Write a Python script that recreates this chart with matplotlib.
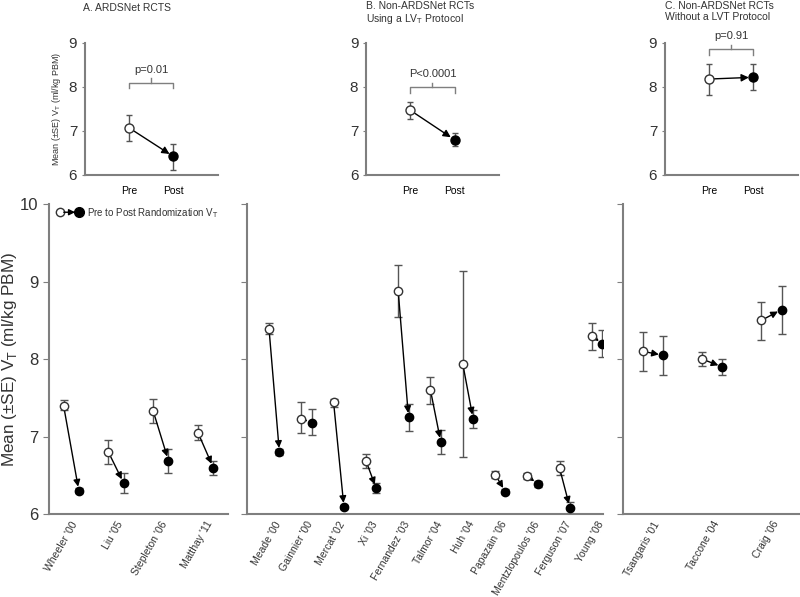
import matplotlib.pyplot as plt

plt.rcParams["font.family"] = ["Liberation Sans", "DejaVu Sans"]

# summary panels (pre, post) mean and SE bounds
summary_titles = [
    "A. ARDSNet RCTS",
    "B. Non-ARDSNet RCTs\nUsing a LV$_{\\mathrm{T}}$ Protocol",
    "C. Non-ARDSNet RCTs\nWithout a LVT Protocol",
]
summary_pre = [7.07, 7.47, 8.18]
summary_pre_lo = [6.77, 7.28, 7.82]
summary_pre_hi = [7.37, 7.66, 8.53]
summary_post = [6.42, 6.80, 8.22]
summary_post_lo = [6.12, 6.65, 7.92]
summary_post_hi = [6.70, 6.95, 8.53]
summary_p = ["p=0.01", "P<0.0001", "p=0.91"]
bracket_y = [8.10, 8.00, 8.86]

# individual trials, grouped
group_labels = [
    ["Wheeler '00", "Liu '05", "Stepleton '06", "Matthay '11"],
    ["Meade '00", "Gainnier '00", "Mercat '02", "Xi '03", "Fernandez '03",
     "Talmor '04", "Huh '04", "Papazain '06", "Mentzlopoulos '06",
     "Ferguson '07", "Young '08"],
    ["Tsangaris '01", "Taccone '04", "Craig '06"],
]
group_pre = [
    [7.40, 6.80, 7.33, 7.05],
    [8.39, 7.23, 7.44, 6.69, 8.88, 7.60, 7.94, 6.51, 6.49, 6.59, 8.30],
    [8.10, 8.00, 8.50],
]
group_pre_lo = [
    [7.34, 6.65, 7.18, 6.95],
    [8.32, 7.04, 7.38, 6.59, 8.54, 7.42, 6.74, 6.47, 6.45, 6.50, 8.12],
    [7.85, 7.91, 8.25],
]
group_pre_hi = [
    [7.47, 6.95, 7.48, 7.15],
    [8.46, 7.44, 7.48, 6.78, 9.22, 7.77, 9.14, 6.55, 6.53, 6.68, 8.47],
    [8.35, 8.09, 8.74],
]
group_post = [
    [6.30, 6.40, 6.69, 6.60],
    [6.80, 7.18, 6.09, 6.33, 7.25, 6.93, 7.23, 6.29, 6.39, 6.08, 8.20],
    [8.05, 7.90, 8.64],
]
group_post_lo = [
    [6.27, 6.27, 6.53, 6.50],
    [6.76, 7.02, 6.07, 6.27, 7.07, 6.78, 7.11, 6.26, 6.35, 6.00, 8.03],
    [7.80, 7.79, 8.33],
]
group_post_hi = [
    [6.33, 6.53, 6.84, 6.69],
    [6.84, 7.35, 6.11, 6.40, 7.42, 7.08, 7.34, 6.32, 6.43, 6.16, 8.37],
    [8.30, 8.00, 8.95],
]

GREY = "#7f7f7f"
ERR = "#555555"
TXT = "#333333"


def style_spines(ax):
    for side in ["top", "right"]:
        ax.spines[side].set_visible(False)
    for side in ["left", "bottom"]:
        ax.spines[side].set_color(GREY)
        ax.spines[side].set_linewidth(1.5)


def draw_pair(ax, xp, xq, pre, pre_lo, pre_hi, post, post_lo, post_hi, ms, head, cap):
    ax.errorbar([xp], [pre], yerr=[[pre - pre_lo], [pre_hi - pre]], fmt="none",
                ecolor=ERR, elinewidth=1, capsize=cap, capthick=1, zorder=2)
    ax.errorbar([xq], [post], yerr=[[post - post_lo], [post_hi - post]], fmt="none",
                ecolor=ERR, elinewidth=1, capsize=cap, capthick=1, zorder=2)
    ax.annotate("", xy=(xq, post), xytext=(xp, pre),
                arrowprops=dict(arrowstyle="-|>", color="black", lw=1,
                                shrinkA=ms / 2, shrinkB=ms / 2,
                                mutation_scale=head), zorder=3)
    ax.plot([xp], [pre], "o", ms=ms, mfc="white", mec=TXT, mew=1, zorder=4)
    ax.plot([xq], [post], "o", ms=ms, mfc="black", mec="black", zorder=4)


fig = plt.figure(figsize=(8.0, 5.97), dpi=100)

# ---- top summary panels
top_lefts = [0.106, 0.4575, 0.831]
for i in range(3):
    ax = fig.add_axes([top_lefts[i], 0.707, 0.166, 0.221])
    style_spines(ax)
    ax.set_xlim(0, 3)
    ax.set_ylim(6, 9)
    ax.set_yticks([6, 7, 8, 9])
    ax.set_xticks([1, 2])
    ax.set_xticklabels(["Pre", "Post"], fontsize=7.5)
    ax.tick_params(axis="y", labelsize=11, length=2, color=GREY, labelcolor=TXT)
    ax.tick_params(axis="x", length=0, pad=8)
    draw_pair(ax, 1, 2, summary_pre[i], summary_pre_lo[i], summary_pre_hi[i],
              summary_post[i], summary_post_lo[i], summary_post_hi[i], 6.5, 11, 2.5)
    by = bracket_y[i]
    ax.plot([1, 1, 2, 2], [by - 0.13, by, by, by - 0.13], color=GREY, lw=1)
    ax.plot([1.5, 1.5], [by, by + 0.1], color=GREY, lw=1)
    ax.text(1.5, by + 0.18, summary_p[i], ha="center", va="bottom", fontsize=8,
            color=TXT)
    if i == 0:
        ax.set_ylabel("Mean (±SE) V$_{\\mathrm{T}}$ (ml/kg PBM)", fontsize=6.5,
                      color=TXT, labelpad=4)

fig.text(127 / 800, 1 - 8 / 597, summary_titles[0], ha="center", va="center",
         fontsize=7.5, color=TXT)
fig.text(366 / 800, 0.998, summary_titles[1], ha="left", va="top",
         fontsize=7.5, color=TXT, linespacing=1.05)
fig.text(665 / 800, 0.998, summary_titles[2], ha="left", va="top",
         fontsize=7.5, color=TXT, linespacing=1.05)

# ---- bottom trial panels
bot_boxes = [[0.061, 0.139, 0.224, 0.519],
             [0.309, 0.139, 0.445, 0.519],
             [0.779, 0.139, 0.2225, 0.519]]
xlims = [(0.5, 4.5), (0.164, 11.19), (0.5, 3.5)]
offsets = [0.17, 0.16, 0.17]
for g in range(3):
    ax = fig.add_axes(bot_boxes[g])
    style_spines(ax)
    ax.set_ylim(6, 10)
    ax.set_xlim(*xlims[g])
    ax.set_yticks([6, 7, 8, 9, 10])
    n = len(group_labels[g])
    xs = list(range(1, n + 1))
    ax.set_xticks(xs)
    ax.set_xticklabels(group_labels[g], rotation=60, ha="right",
                       rotation_mode="anchor", fontsize=7.5, color=TXT)
    ax.tick_params(axis="x", length=0, pad=4)
    ax.tick_params(axis="y", length=4, color=GREY, labelsize=12,
                   labelcolor=TXT)
    if g > 0:
        ax.tick_params(axis="y", labelleft=False)
    d = offsets[g]
    for k in range(n):
        draw_pair(ax, xs[k] - d, xs[k] + d,
                  group_pre[g][k], group_pre_lo[g][k], group_pre_hi[g][k],
                  group_post[g][k], group_post_lo[g][k], group_post_hi[g][k],
                  6, 10, 3)
    if g == 0:
        ax.set_ylabel("Mean (±SE) V$_{\\mathrm{T}}$ (ml/kg PBM)", fontsize=12.3,
                      color=TXT)
        ax.yaxis.set_label_coords(-0.165, 0.5)
        # legend key
        ax.annotate("", xy=(0.17, 0.974), xytext=(0.06, 0.974),
                    xycoords="axes fraction",
                    arrowprops=dict(arrowstyle="-|>", color="black", lw=1,
                                    shrinkA=3, shrinkB=3, mutation_scale=9))
        ax.plot([0.06], [0.974], "o", ms=6, mfc="white", mec=TXT,
                transform=ax.transAxes, clip_on=False)
        ax.plot([0.17], [0.974], "o", ms=7, mfc="black", mec="black",
                transform=ax.transAxes, clip_on=False)
        ax.text(0.215, 0.97, "Pre to Post Randomization V$_{\\mathrm{T}}$",
                transform=ax.transAxes, ha="left", va="center", fontsize=7,
                color=TXT)

fig.savefig("out.png", dpi=100)
